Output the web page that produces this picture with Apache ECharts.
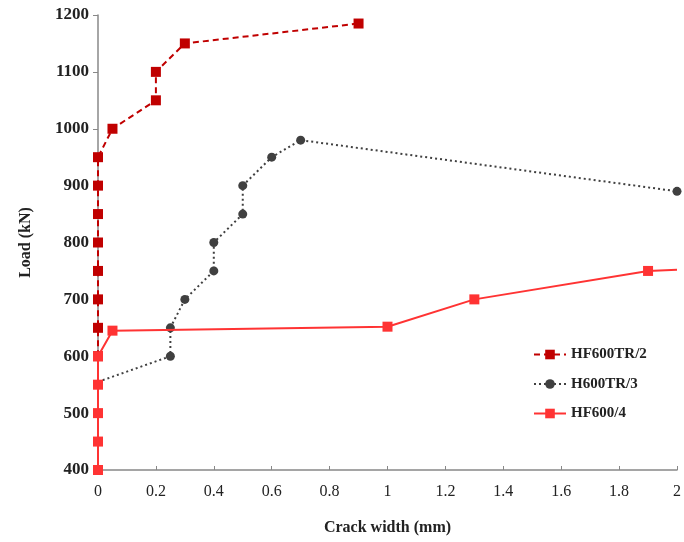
<!DOCTYPE html>
<html>
<head>
<meta charset="utf-8">
<script src="https://cdn.jsdelivr.net/npm/echarts@6/dist/echarts.min.js"></script>
<style>
	html, body { margin: 0; padding: 0; background: #fff; }
	#chart { width: 684px; height: 542px; }
</style>
</head>
<body>
<div id="chart"></div>
<script>
// crack width (mm) / load (kN)
const hf600tr2Width = [0, 0, 0, 0, 0, 0, 0, 0, 0.05, 0.2, 0.2, 0.3, 0.9]
const hf600tr2Load = [600, 650, 700, 750, 800, 850, 900, 950, 1000, 1050, 1100, 1150, 1185]

const h600tr3Width = [0, 0.25, 0.25, 0.3, 0.4, 0.4, 0.5, 0.5, 0.6, 0.7, 2]
const h600tr3Load = [555, 600, 650, 700, 750, 800, 850, 900, 950, 980, 890]

const hf6004Width = [0, 0, 0, 0, 0, 0.05, 1, 1.3, 1.9, 2]
const hf6004Load = [400, 450, 500, 550, 600, 645, 652, 700, 750, 752]

const seriesNames = ["HF600TR/2", "H600TR/3", "HF600/4"]

// [x, y] pairs; indexes in `hidden` get no marker (line just runs through)
const pairs = (xs, ys, hidden = []) =>
	xs.map((x, i) => (hidden.includes(i) ? { value: [x, ys[i]], symbol: "none" } : [x, ys[i]]))

const serif = "'Liberation Serif', 'DejaVu Serif', serif"

const chart = echarts.init(document.getElementById("chart"))

chart.setOption({
	animation: false,
	grid: {
		top: 15,
		right: 6,
		bottom: 72,
		left: 98,
	},
	legend: {
		orient: "vertical",
		left: 528,
		top: 342,
		itemWidth: 32,
		itemHeight: 12,
		itemGap: 14.5,
		textStyle: {
			fontFamily: serif,
			fontWeight: "bold",
			fontSize: 15,
			color: "#222",
		},
		data: seriesNames,
	},
	xAxis: {
		type: "value",
		min: 0,
		max: 2,
		interval: 0.2,
		name: "Crack width (mm)",
		nameLocation: "middle",
		nameGap: 50,
		nameTextStyle: {
			fontFamily: serif,
			fontWeight: "bold",
			fontSize: 16,
			color: "#222",
		},
		axisLine: { lineStyle: { color: "#888", width: 1.5 } },
		axisTick: { inside: true, length: 4, lineStyle: { color: "#888" } },
		axisLabel: {
			fontFamily: serif,
			fontSize: 16,
			color: "#222",
			margin: 14,
			formatter: (v) => String(+v.toFixed(1)),
		},
		splitLine: { show: false },
	},
	yAxis: {
		type: "value",
		min: 400,
		max: 1200,
		interval: 100,
		name: "Load (kN)",
		nameLocation: "middle",
		nameGap: 64,
		nameTextStyle: {
			fontFamily: serif,
			fontWeight: "bold",
			fontSize: 16,
			color: "#222",
		},
		axisLine: { show: true, lineStyle: { color: "#888", width: 1.5 } },
		axisTick: { show: true, length: 5, lineStyle: { color: "#888" } },
		axisLabel: {
			fontFamily: serif,
			fontWeight: "bold",
			fontSize: 17,
			color: "#222",
			margin: 9,
			formatter: (v) => String(v),
		},
		splitLine: { show: false },
	},
	series: [
		{
			name: seriesNames[0],
			type: "line",
			data: pairs(hf600tr2Width, hf600tr2Load),
			symbol: "rect",
			symbolSize: 10,
			z: 3,
			itemStyle: { color: "#c00000" },
			lineStyle: { color: "#c00000", width: 2, type: [6, 4] },
		},
		{
			name: seriesNames[1],
			type: "line",
			data: pairs(h600tr3Width, h600tr3Load, [0]),
			symbol: "circle",
			symbolSize: 9,
			z: 2,
			itemStyle: { color: "#404040" },
			lineStyle: { color: "#404040", width: 2, type: [2, 3] },
		},
		{
			name: seriesNames[2],
			type: "line",
			data: pairs(hf6004Width, hf6004Load, [hf6004Width.length - 1]),
			symbol: "rect",
			symbolSize: 10,
			z: 4,
			itemStyle: { color: "#ff3333" },
			lineStyle: { color: "#ff3333", width: 2 },
		},
	],
})
</script>
</body>
</html>
